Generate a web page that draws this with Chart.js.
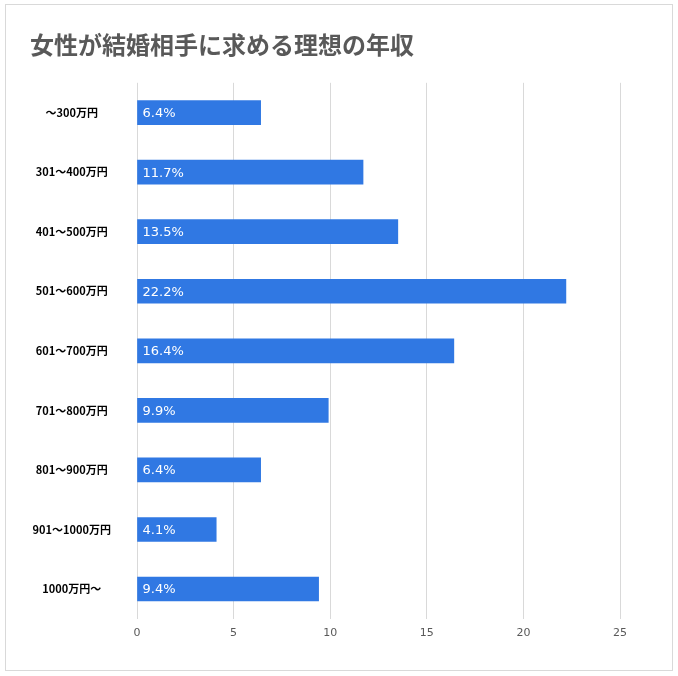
<!DOCTYPE html>
<html>
<head>
<meta charset="utf-8">
<script src="https://cdn.jsdelivr.net/npm/chart.js@4"></script>
<style>
  html, body { margin: 0; padding: 0; background: #fff; }
  #wrap {
    position: absolute; left: 5px; top: 4px;
    width: 666px; height: 665px;
    border: 1px solid #d9d9d9;
  }
  canvas { display: block; }
</style>
</head>
<body>
<div id="wrap"><canvas id="chart" width="666" height="665"></canvas></div>
<script>
const titleText = '女性が結婚相手に求める理想の年収';
const categories = ['～300万円', '301～400万円', '401～500万円', '501～600万円', '601～700万円',
  '701～800万円', '801～900万円', '901～1000万円', '1000万円～'];
const shares = [6.4, 11.7, 13.5, 22.2, 16.4, 9.9, 6.4, 4.1, 9.4];
const xTicks = [0, 5, 10, 15, 20, 25];

const jpFont = '"Noto Sans CJK JP", "Noto Sans", sans-serif';
const numFont = '"DejaVu Sans", "Noto Sans", sans-serif';

// draws the percentage inside each bar, near its base
const barLabels = {
  id: 'barLabels',
  afterDatasetsDraw(chart) {
    const ctx = chart.ctx;
    const meta = chart.getDatasetMeta(0);
    ctx.save();
    ctx.fillStyle = '#ffffff';
    ctx.font = '13px ' + numFont;
    ctx.textAlign = 'left';
    ctx.textBaseline = 'middle';
    meta.data.forEach((bar, i) => {
      ctx.fillText(shares[i].toFixed(1) + '%', bar.base + 5, bar.y + 1);
    });
    ctx.restore();
  }
};

new Chart(document.getElementById('chart'), {
  type: 'bar',
  data: {
    labels: categories,
    datasets: [{
      data: shares,
      backgroundColor: '#3078e3',
      barThickness: 24
    }]
  },
  options: {
    indexAxis: 'y',
    responsive: false,
    animation: false,
    layout: { padding: { left: 24, right: 52, top: 0, bottom: 22 } },
    plugins: {
      legend: { display: false },
      tooltip: { enabled: false },
      title: {
        display: true,
        text: titleText,
        align: 'start',
        color: '#595959',
        font: { family: jpFont, size: 24, weight: 'bold' },
        padding: { top: 25, bottom: 24 }
      }
    },
    scales: {
      x: {
        min: 0,
        max: 25,
        afterBuildTicks: (scale) => { scale.ticks = xTicks.map((v) => ({ value: v })); },
        grid: { color: '#d9d9d9', drawTicks: false },
        border: { display: false },
        ticks: { color: '#595959', font: { family: numFont, size: 11 }, padding: 8 }
      },
      y: {
        grid: { display: false },
        border: { display: false },
        afterFit: (scale) => { scale.width = 107; },
        ticks: {
          color: '#000000',
          crossAlign: 'center',
          padding: 18,
          font: { family: jpFont, size: 11, weight: 'bold' }
        }
      }
    }
  },
  plugins: [barLabels]
});
</script>
</body>
</html>
